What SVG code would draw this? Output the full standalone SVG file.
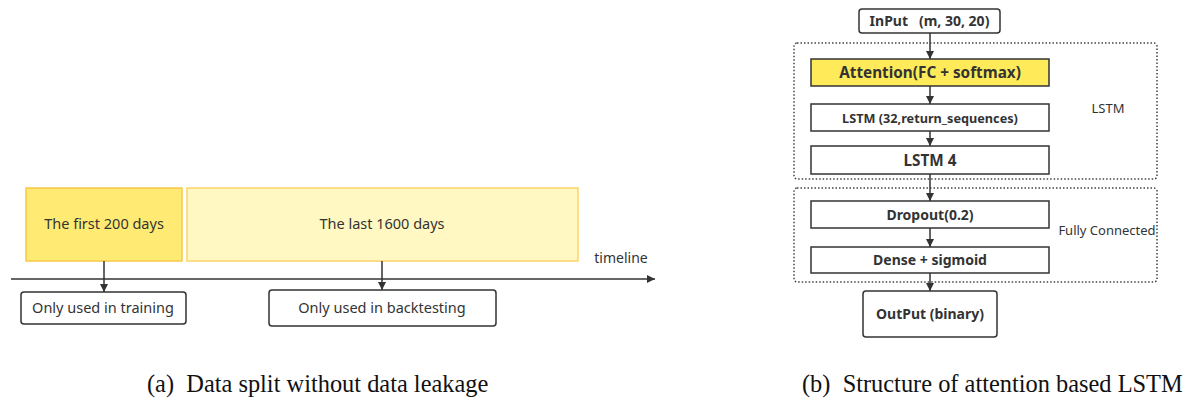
<svg xmlns="http://www.w3.org/2000/svg" width="1183" height="399" viewBox="0 0 1183 399">
<defs>
<marker id="ah" viewBox="0 0 10 10" refX="10" refY="5" markerWidth="8" markerHeight="8" markerUnits="userSpaceOnUse" orient="auto">
<path d="M0,0 L10,5 L0,10 z" fill="#333"/>
</marker>
<style>
.t{font-family:"Noto Sans","Open Sans",sans-serif;font-size:14.5px;fill:#333;text-anchor:middle}
.b{font-family:"Noto Sans","Open Sans",sans-serif;font-size:14px;font-weight:bold;fill:#333;text-anchor:middle}
.cap{font-family:"Liberation Serif","Times New Roman",serif;font-size:24.4px;fill:#111}
.box{fill:#fff;stroke:#333;stroke-width:1.5}
.dot{fill:none;stroke:#444;stroke-width:1.5;stroke-dasharray:1.5 2}
.ar{fill:none;stroke:#333;stroke-width:1.5;marker-end:url(#ah)}
</style>
</defs>
<rect width="1183" height="399" fill="#fff"/>

<g id="first200">
<rect x="26" y="188" width="156" height="73" fill="#FFEB73" stroke="#F7C84A" stroke-width="1.5"/>
<text class="t" x="104" y="229">The first 200 days</text>
</g>
<g id="last1600">
<rect x="187" y="188" width="391" height="73" fill="#FFF8C2" stroke="#FCD468" stroke-width="1.5"/>
<text class="t" x="382" y="229">The last 1600 days</text>
</g>
<g id="timeline-label">
<text class="t" x="621" y="263" style="font-size:14px">timeline</text>
</g>
<g id="training">
<rect class="box" x="21" y="292" width="165" height="32" rx="3"/>
<text class="t" x="103" y="313">Only used in training</text>
</g>
<g id="backtesting">
<rect class="box" x="269" y="290" width="227" height="36" rx="3"/>
<text class="t" x="382" y="313">Only used in backtesting</text>
</g>

<g id="lstm-group">
<rect class="dot" x="794" y="43" width="363" height="136" rx="3"/>
<text class="t" x="1108" y="113" style="font-size:13px">LSTM</text>
</g>
<g id="fc-group">
<rect class="dot" x="794" y="188" width="363" height="94" rx="3"/>
<text class="t" x="1107" y="235" style="font-size:13px">Fully Connected</text>
</g>
<g id="input">
<rect class="box" x="859" y="9" width="141" height="24" rx="3"/>
<text class="b" x="929.5" y="26" xml:space="preserve">InPut   (m, 30, 20)</text>
</g>
<g id="attention">
<rect x="811" y="59" width="238" height="27" fill="#FFEB5A" stroke="#333" stroke-width="1.5"/>
<text class="b" x="930" y="78" style="font-size:15.3px">Attention(FC + softmax)</text>
</g>
<g id="lstm32">
<rect class="box" x="811" y="104" width="238" height="27"/>
<text class="b" x="930" y="122.5" style="font-size:12.7px">LSTM (32,return_sequences)</text>
</g>
<g id="lstm4">
<rect class="box" x="811" y="146" width="238" height="28"/>
<text class="b" x="930" y="165.5" style="font-size:15.3px">LSTM 4</text>
</g>
<g id="dropout">
<rect class="box" x="811" y="201" width="238" height="27"/>
<text class="b" x="930" y="219.5">Dropout(0.2)</text>
</g>
<g id="dense">
<rect class="box" x="811" y="247" width="238" height="26"/>
<text class="b" x="930" y="265">Dense + sigmoid</text>
</g>
<g id="output">
<rect class="box" x="863" y="291" width="134" height="46" rx="3"/>
<text class="b" x="930" y="318.5">OutPut (binary)</text>
</g>

<g id="connectors">
<line class="ar" x1="11" y1="279" x2="655" y2="279"/>
<line class="ar" x1="104" y1="261" x2="104" y2="292"/>
<line class="ar" x1="382" y1="261" x2="382" y2="290"/>
<line class="ar" x1="930" y1="33" x2="930" y2="59"/>
<line class="ar" x1="930" y1="86" x2="930" y2="104"/>
<line class="ar" x1="930" y1="131" x2="930" y2="146"/>
<line class="ar" x1="930" y1="174" x2="930" y2="201"/>
<line class="ar" x1="930" y1="228" x2="930" y2="247"/>
<line class="ar" x1="930" y1="273" x2="930" y2="291"/>
</g>

<g id="captions">
<text class="cap" x="147" y="392" xml:space="preserve">(a)  Data split without data leakage</text>
<text class="cap" x="802" y="392" xml:space="preserve">(b)  Structure of attention based LSTM</text>
</g>
</svg>
